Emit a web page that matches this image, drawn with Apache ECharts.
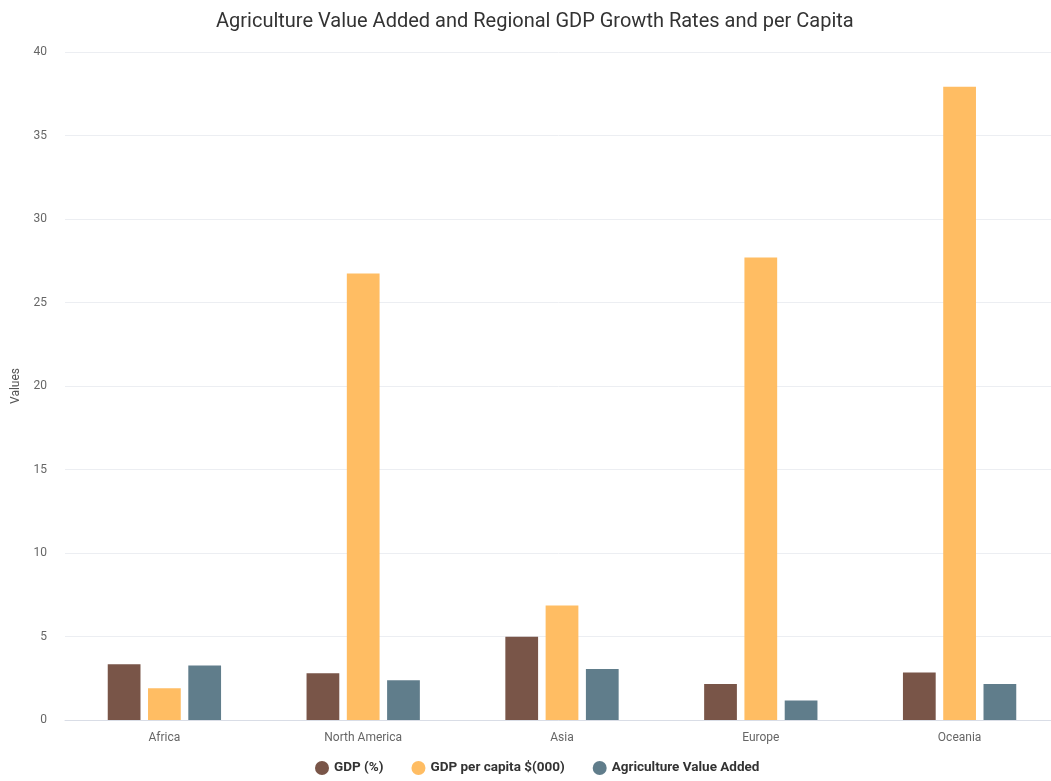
<!DOCTYPE html>
<html><head><meta charset="utf-8">
<script src="https://cdn.jsdelivr.net/npm/echarts@6/dist/echarts.min.js"></script>
<style>html,body{margin:0;padding:0;background:#fff}#c{width:1051px;height:781px}</style>
</head><body><div id="c"></div>
<script>
var categories = ["Africa", "North America", "Asia", "Europe", "Oceania"];
var gdpPct = [3.34, 2.8, 4.98, 2.16, 2.85];
var gdpPerCapita = [1.9, 26.74, 6.85, 27.7, 37.92];
var agriValueAdded = [3.27, 2.38, 3.05, 1.17, 2.16];
var yTicks = [0, 5, 10, 15, 20, 25, 30, 35, 40];

var chart = echarts.init(document.getElementById('c'));
var font = 'Roboto, "Noto Sans", sans-serif';
chart.setOption({
  animation: false,
  textStyle: {fontFamily: font},
  title: {text: 'Agriculture Value Added and Regional GDP Growth Rates and per Capita', left: 211, top: 7,
    textStyle: {fontFamily: font, fontSize: 20, fontWeight: 'normal', color: '#333'}},
  legend: {bottom: 1, left: 310, itemGap: 28, icon: 'circle', itemWidth: 14, itemHeight: 14,
    textStyle: {fontFamily: font, fontSize: 13.5, fontWeight: 'bold', color: '#333'},
    data: ['GDP (%)', 'GDP per capita $(000)', 'Agriculture Value Added']},
  grid: {left: 65, width: 994, top: 52, bottom: 61, containLabel: false, outerBoundsMode: 'none'},
  xAxis: {type: 'category', data: categories,
    axisLine: {lineStyle: {color: '#d9dde6'}}, axisTick: {show: false},
    axisLabel: {color: '#666', fontSize: 12, margin: 12}},
  yAxis: {type: 'value', min: yTicks[0], max: yTicks[yTicks.length - 1], interval: 5,
    name: 'Values', nameLocation: 'middle', nameGap: 43, nameTextStyle: {color: '#555', fontSize: 12},
    axisLabel: {color: '#666', fontSize: 12, margin: 18},
    splitLine: {lineStyle: {color: '#eceef2'}}, axisLine: {show: false}, axisTick: {show: false}},
  series: [
    {name: 'GDP (%)', type: 'bar', data: gdpPct, itemStyle: {color: '#795548'}, barGap: '23%', barCategoryGap: '43%'},
    {name: 'GDP per capita $(000)', type: 'bar', data: gdpPerCapita, itemStyle: {color: '#ffbd63'}},
    {name: 'Agriculture Value Added', type: 'bar', data: agriValueAdded, itemStyle: {color: '#607d8b'}}
  ]
});
</script></body></html>
